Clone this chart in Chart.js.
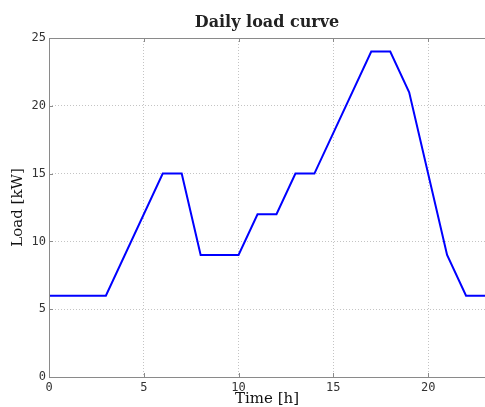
<!DOCTYPE html>
<html>
<head>
<meta charset="utf-8">
<script src="https://cdn.jsdelivr.net/npm/chart.js@4/dist/chart.umd.min.js"></script>
<style>
  html, body { margin: 0; padding: 0; background: #fff; }
  #wrap { width: 485px; height: 407px; position: relative; }
</style>
</head>
<body>
<div id="wrap"><canvas id="loadChart"></canvas></div>
<script>
// hour of day and load in kW at each corner of the curve
const hours = [0, 3, 6, 7, 8, 10, 11, 12, 13, 14, 17, 18, 19, 21, 22, 23];
const load  = [6, 6, 15, 15, 9, 9, 12, 12, 15, 15, 24, 24, 21, 9, 6, 6];

const titleText = 'Daily load curve';
const xLabel = 'Time [h]';
const yLabel = 'Load [kW]';

const AXIS = '#8a8a8a';
const GRID = '#c4c4c4';

// solid frame, inward tick marks and the title over the plot area
const framePlugin = {
  id: 'frame',
  afterDraw(chart) {
    const { ctx, chartArea: a, scales: { x, y } } = chart;
    ctx.save();
    ctx.strokeStyle = AXIS;
    ctx.lineWidth = 1;
    ctx.setLineDash([]);
    ctx.beginPath();
    ctx.moveTo(a.left, a.top + 0.5);
    ctx.lineTo(a.right, a.top + 0.5);
    ctx.moveTo(a.left, a.bottom + 0.5);
    ctx.lineTo(a.right, a.bottom + 0.5);
    ctx.moveTo(a.left + 0.5, a.top);
    ctx.lineTo(a.left + 0.5, a.bottom + 1);
    x.ticks.forEach(t => {
      const px = Math.round(x.getPixelForValue(t.value)) + 0.5;
      ctx.moveTo(px, a.bottom); ctx.lineTo(px, a.bottom - 4);
      ctx.moveTo(px, a.top); ctx.lineTo(px, a.top + 4);
    });
    y.ticks.forEach(t => {
      const py = Math.round(y.getPixelForValue(t.value)) + 0.5;
      ctx.moveTo(a.left, py); ctx.lineTo(a.left + 4, py);
    });
    ctx.stroke();

    ctx.fillStyle = '#222';
    ctx.font = 'bold 16px "DejaVu Serif"';
    ctx.textAlign = 'center';
    ctx.textBaseline = 'alphabetic';
    ctx.fillText(titleText, (a.left + a.right) / 2, 27);
    ctx.restore();
  }
};

new Chart(document.getElementById('loadChart'), {
  type: 'line',
  data: {
    datasets: [{
      data: hours.map((h, i) => ({ x: h, y: load[i] })),
      borderColor: '#0000ff',
      borderWidth: 2,
      pointRadius: 0,
      tension: 0,
      fill: false
    }]
  },
  options: {
    responsive: true,
    maintainAspectRatio: false,
    animation: false,
    layout: { padding: { top: 38, right: 0, bottom: 0, left: 0 } },
    plugins: {
      legend: { display: false },
      tooltip: { enabled: false }
    },
    scales: {
      x: {
        type: 'linear',
        min: 0,
        max: 23,
        afterFit: s => { s.height = 30; },
        border: { display: false, dash: [1, 2] },
        grid: { color: GRID, drawTicks: false },
        ticks: {
          stepSize: 5,
          includeBounds: false,
          padding: 4,
          color: '#333',
          font: { family: '"DejaVu Sans Mono"', size: 12 }
        },
        title: {
          display: true,
          text: xLabel,
          color: '#111',
          font: { family: '"DejaVu Serif"', size: 15, lineHeight: 1 },
          padding: { top: 0, bottom: 0 }
        }
      },
      y: {
        min: 0,
        max: 25,
        afterFit: s => { s.width = 49; },
        border: { display: false, dash: [1, 2] },
        grid: { color: GRID, drawTicks: false },
        ticks: {
          stepSize: 5,
          padding: 3,
          color: '#333',
          font: { family: '"DejaVu Sans Mono"', size: 12 }
        },
        title: {
          display: true,
          text: yLabel,
          color: '#111',
          font: { family: '"DejaVu Serif"', size: 15, lineHeight: 1.2 },
          padding: { top: 9, bottom: 0 }
        }
      }
    }
  },
  plugins: [framePlugin]
});
</script>
</body>
</html>
